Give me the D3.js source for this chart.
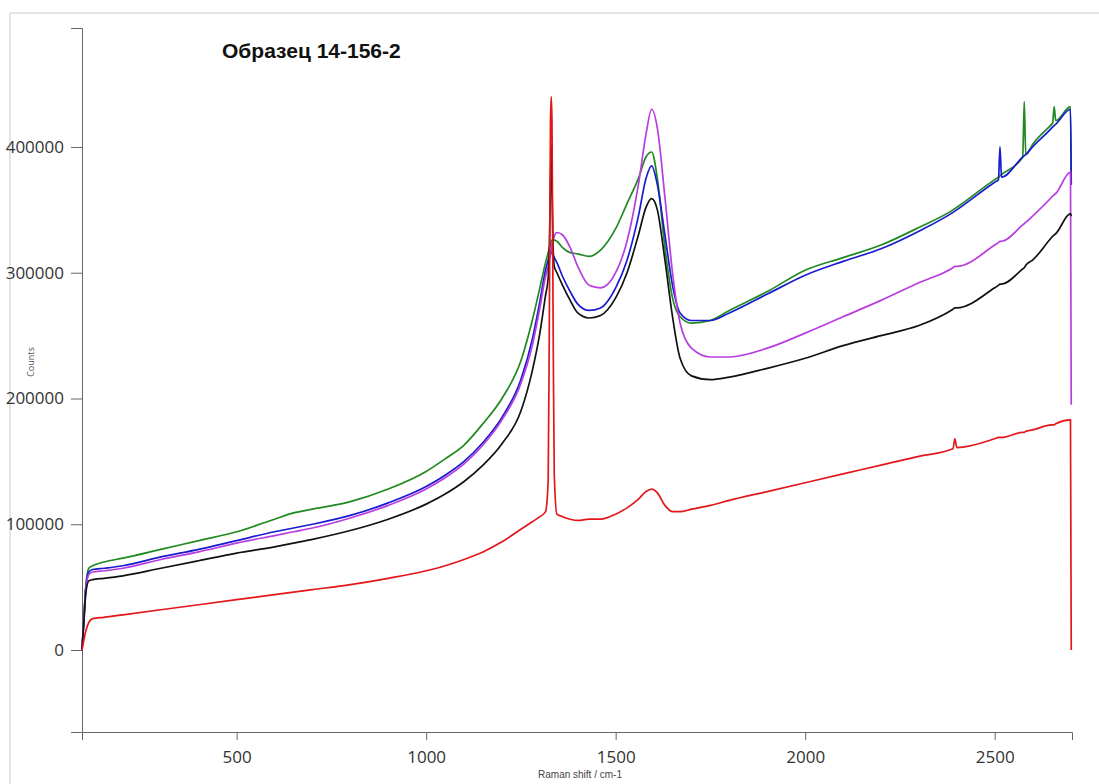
<!DOCTYPE html>
<html>
<head>
<meta charset="utf-8">
<script src="https://cdn.jsdelivr.net/npm/d3@7"></script>
<style>
  body { margin: 0; background: #fff; }
  svg { display: block; }
</style>
</head>
<body>
<div id="chart"></div>
<script>
// Raman spectra, sample 14-156-2 (values in thousands of counts)

var shift = [92, 97, 102, 110, 120, 150, 200, 300, 400, 500, 600, 650, 700, 800, 900, 1000, 1050, 1100, 1150, 1200, 1250, 1280, 1300, 1315, 1322, 1325, 1328, 1330, 1332, 1335, 1338, 1345, 1360, 1380, 1400, 1430, 1460, 1500, 1530, 1560, 1580, 1595, 1610, 1630, 1650, 1670, 1700, 1750, 1800, 1900, 2000, 2100, 2200, 2300, 2390, 2395, 2400, 2500, 2510, 2514, 2518, 2574, 2578, 2582, 2600, 2650, 2653, 2657, 2661, 2700, 2702];

var green   = [0, 25, 50, 65, 67, 70, 73, 80, 87, 94, 104, 109, 112, 118, 128, 142, 152, 163, 180, 200, 230, 262, 288, 308, 316, 320, 322, 325, 326, 326, 326, 325, 320, 316, 315, 313, 318, 335, 355, 375, 392, 396, 375, 320, 280, 265, 260, 262, 270, 285, 302, 312, 322, 336, 350, 351, 352, 374, 376, 377, 378, 392, 436, 394, 402, 418, 419, 432, 421, 432, 370];
var blue    = [0, 25, 50, 62, 64, 65, 67, 74, 80, 87, 94, 97, 100, 107, 117, 130, 139, 150, 165, 185, 215, 247, 277, 302, 310, 313, 315, 318, 316, 314, 312, 308, 297, 285, 275, 270, 272, 288, 310, 345, 375, 385, 370, 330, 290, 268, 262, 262, 268, 283, 298, 309, 319, 333, 348, 349, 350, 372, 374, 400, 376, 392, 393, 394, 400, 415, 416, 417, 418, 430, 370];
var magenta = [0, 25, 48, 60, 62, 63, 65, 72, 78, 85, 91, 94, 97, 105, 115, 128, 137, 148, 163, 183, 212, 242, 272, 297, 305, 310, 314, 318, 322, 326, 329, 332, 330, 320, 305, 290, 288, 300, 325, 370, 410, 430, 415, 360, 300, 260, 240, 233, 233, 240, 252, 265, 278, 292, 304, 305, 305, 322, 324, 325, 325, 338, 339, 340, 345, 360, 361, 362, 363, 380, 195];
var black   = [0, 22, 45, 55, 56, 57, 59, 65, 71, 77, 82, 85, 88, 95, 104, 116, 124, 134, 147, 164, 190, 222, 252, 282, 296, 320, 370, 402, 370, 320, 305, 300, 290, 278, 268, 264, 266, 280, 300, 330, 352, 359, 350, 310, 265, 232, 218, 215, 217, 224, 232, 242, 250, 258, 271, 272, 272, 288, 290, 291, 291, 303, 304, 306, 310, 328, 329, 330, 331, 347, 345];
var red     = [0, 8, 15, 22, 25, 26, 28, 32, 36, 40, 44, 46, 48, 52, 57, 63, 67, 72, 78, 86, 96, 102, 106, 110, 135, 260, 420, 440, 420, 260, 140, 108, 106, 104, 103, 104, 104, 108, 113, 120, 126, 128, 125, 115, 110, 110, 112, 115, 119, 126, 133, 140, 147, 154, 160, 168, 161, 168, 169, 169, 169, 173, 173, 174, 175, 179, 179, 179, 180, 183, 0];

var seriesNames  = ['green', 'blue', 'magenta', 'black', 'red'];
var seriesColors = ['#1f8a1f', '#1a1ad0', '#b83de0', '#111111', '#e3161b'];

var xTicksMajor = [500, 1000, 1500, 2000, 2500];
var yTicksMajor = [0, 100000, 200000, 300000, 400000];

var width = 1099, height = 784;

var svg = d3.select('#chart').append('svg')
  .attr('width', width)
  .attr('height', height);

// light frame of the screenshot
svg.append('line').attr('x1', 10).attr('x2', width).attr('y1', 13).attr('y2', 13)
  .attr('stroke', '#e4e4e4').attr('stroke-width', 2);
svg.append('line').attr('x1', 10).attr('x2', 10).attr('y1', 13).attr('y2', height)
  .attr('stroke', '#e4e4e4').attr('stroke-width', 2);

var x = d3.scaleLinear().domain([92, 2704]).range([82, 1072]);
var y = d3.scaleLinear().domain([-65200, 494600]).range([732, 28]);

var minorX = d3.range(100, 2701, 100);
var minorY = d3.range(-60000, 480001, 20000);

// axes
var gx = svg.append('g').attr('transform', 'translate(0,732)');
gx.call(d3.axisBottom(x).tickValues(minorX).tickSize(5).tickFormat(''));
gx.call(d3.axisBottom(x).tickValues(xTicksMajor).tickSize(8).tickPadding(11).tickFormat(d3.format('d')));

var gy = svg.append('g').attr('transform', 'translate(82,0)');
gy.call(d3.axisLeft(y).tickValues(minorY).tickSize(5).tickFormat(''));
gy.call(d3.axisLeft(y).tickValues(yTicksMajor).tickSize(11).tickPadding(7).tickFormat(d3.format('d')));

svg.selectAll('.domain').attr('stroke', '#666');
svg.selectAll('.tick line').attr('stroke', '#666');
svg.selectAll('.tick text')
  .attr('fill', '#333')
  .style('font-family', '"Open Sans", sans-serif')
  .style('font-size', '17px');

// spectra
var line = d3.line()
  .x(function(d) { return x(d[0]); })
  .y(function(d) { return y(d[1] * 1000); })
  .curve(d3.curveMonotoneX);

var allSeries = [green, blue, magenta, black, red];
allSeries.forEach(function(vals, i) {
  var pts = shift.map(function(s, j) { return [s, vals[j]]; });
  svg.append('path')
    .datum(pts)
    .attr('class', 'spectrum ' + seriesNames[i])
    .attr('fill', 'none')
    .attr('stroke', seriesColors[i])
    .attr('stroke-width', 1.7)
    .attr('d', line);
});

// titles
svg.append('text')
  .attr('x', 222).attr('y', 58)
  .style('font-family', '"Liberation Sans", Arial, sans-serif')
  .style('font-weight', 'bold')
  .style('font-size', '21px')
  .attr('fill', '#111')
  .text('Образец 14-156-2');

svg.append('text')
  .attr('x', 580).attr('y', 778)
  .attr('text-anchor', 'middle')
  .style('font-family', '"Liberation Sans", Arial, sans-serif')
  .style('font-size', '10px')
  .attr('fill', '#444')
  .text('Raman shift / cm-1');

svg.append('text')
  .attr('transform', 'translate(34,362) rotate(-90)')
  .attr('text-anchor', 'middle')
  .style('font-family', '"Open Sans", sans-serif')
  .style('font-size', '9px')
  .attr('fill', '#555')
  .text('Counts');
</script>
</body>
</html>
